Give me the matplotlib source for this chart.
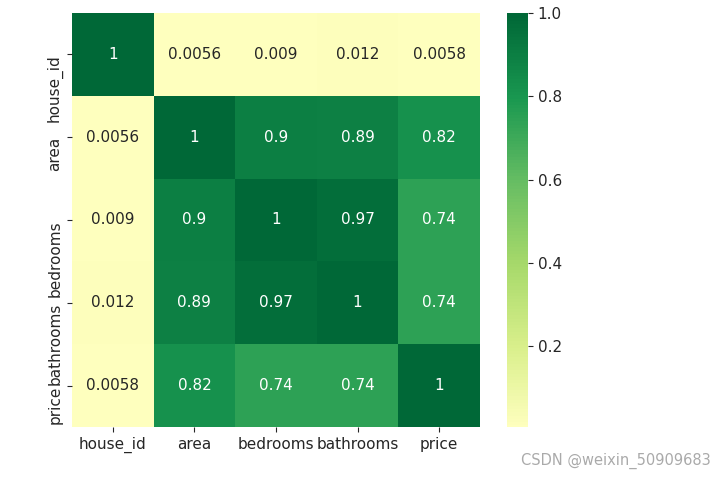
import numpy as np
import matplotlib.pyplot as plt
import seaborn as sns

# column names and correlation values
cols = ["house_id", "area", "bedrooms", "bathrooms", "price"]
row_house_id = [1, 0.0056, 0.009, 0.012, 0.0058]
row_area = [0.0056, 1, 0.9, 0.89, 0.82]
row_bedrooms = [0.009, 0.9, 1, 0.97, 0.74]
row_bathrooms = [0.012, 0.89, 0.97, 1, 0.74]
row_price = [0.0058, 0.82, 0.74, 0.74, 1]


def corr_heatmap():
    corr = np.array([row_house_id, row_area, row_bedrooms, row_bathrooms, row_price])

    fig = plt.figure(figsize=(7.25, 4.79), dpi=100)
    ax = fig.add_axes([72 / 725, 52 / 479, 408 / 725, 414 / 479])
    cax = fig.add_axes([507 / 725, 52 / 479, 21 / 725, 414 / 479])

    # center=0 keeps only the yellow->green half of RdYlGn
    sns.heatmap(corr, annot=True, cmap="RdYlGn", center=0, xticklabels=cols,
                yticklabels=cols, ax=ax, cbar_ax=cax, annot_kws={"size": 11})
    ax.tick_params(labelsize=11, labelcolor="#262626", color="#262626")
    for lab in ax.get_yticklabels():
        lab.set_va("top")
    cax.tick_params(labelsize=11, labelcolor="#262626", color="#262626")
    cax.set_yticks([0.2, 0.4, 0.6, 0.8, 1.0])
    for s in cax.spines.values():
        s.set_visible(False)

    fig.text(0.98, 0.037, "CSDN @weixin_50909683", ha="right", va="center",
             color="#aaaaaa", fontsize=10.5)
    fig.savefig("out.png", dpi=100)


if __name__ == "__main__":
    corr_heatmap()
